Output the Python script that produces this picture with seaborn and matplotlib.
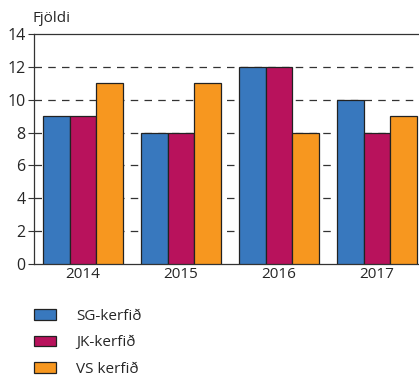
import matplotlib
matplotlib.use("Agg")
import matplotlib.pyplot as plt
import seaborn as sns
import pandas as pd
from matplotlib.patches import Patch

years = ["2014", "2015", "2016", "2017"]
series = ["SG-kerfið", "JK-kerfið", "VS kerfið"]
sg = [9, 8, 12, 10]
jk = [9, 8, 12, 8]
vs = [11, 11, 8, 9]
colors = ["#3878be", "#b8125c", "#f7971f"]

df = pd.DataFrame({
    "year": years * 3,
    "series": [series[0]] * 4 + [series[1]] * 4 + [series[2]] * 4,
    "value": sg + jk + vs,
})

sns.set_style("white")
plt.rcParams["font.family"] = ["Open Sans", "DejaVu Sans"]

fig = plt.figure(figsize=(4.19, 3.76), dpi=100)
ax = fig.add_axes([34/419, 1 - 264/376, 392/419, 230/376])

sns.barplot(data=df, x="year", y="value", hue="series", palette=colors,
            width=0.81, edgecolor="#222222", linewidth=0.9, ax=ax,
            legend=False, zorder=3, saturation=1)

ax.set_xlim(-0.5, 3.5)
ax.set_ylim(0, 14)
ax.set_yticks(range(0, 15, 2))
ax.set_xlabel("")
ax.set_ylabel("")
for y in range(2, 14, 2):
    ax.axhline(y, color="#333333", lw=0.9, ls=(0, (6, 5)), zorder=1)

ax.set_xticks([0, 1, 2, 3])
ax.set_xticks([-0.5, 0.5, 1.5, 2.5, 3.5], minor=True)
ax.tick_params(axis="x", which="major", length=0, labelsize=11, pad=2)
ax.tick_params(axis="x", which="minor", length=4, width=0.8, color="#333333", direction="out")
ax.tick_params(axis="y", length=4, width=0.8, color="#333333", direction="out", labelsize=11.5, pad=2, left=True)

for s in ["right"]:
    ax.spines[s].set_visible(False)
for s in ["left", "bottom", "top"]:
    ax.spines[s].set_color("#333333")
    ax.spines[s].set_linewidth(0.9)

fig.text(32/419, 1 - 18/376, "Fjöldi", fontsize=11, ha="left", va="center")

handles = [Patch(facecolor=c, edgecolor="#222222", linewidth=0.9) for c in colors]
fig.legend(handles, series, loc="upper left", bbox_to_anchor=(34/419, 1 - 309/376),
           frameon=False, fontsize=11, handlelength=1.45, handleheight=0.7,
           handletextpad=1.3, labelspacing=0.74, borderpad=0, borderaxespad=0)

fig.savefig("out.png", dpi=100)
